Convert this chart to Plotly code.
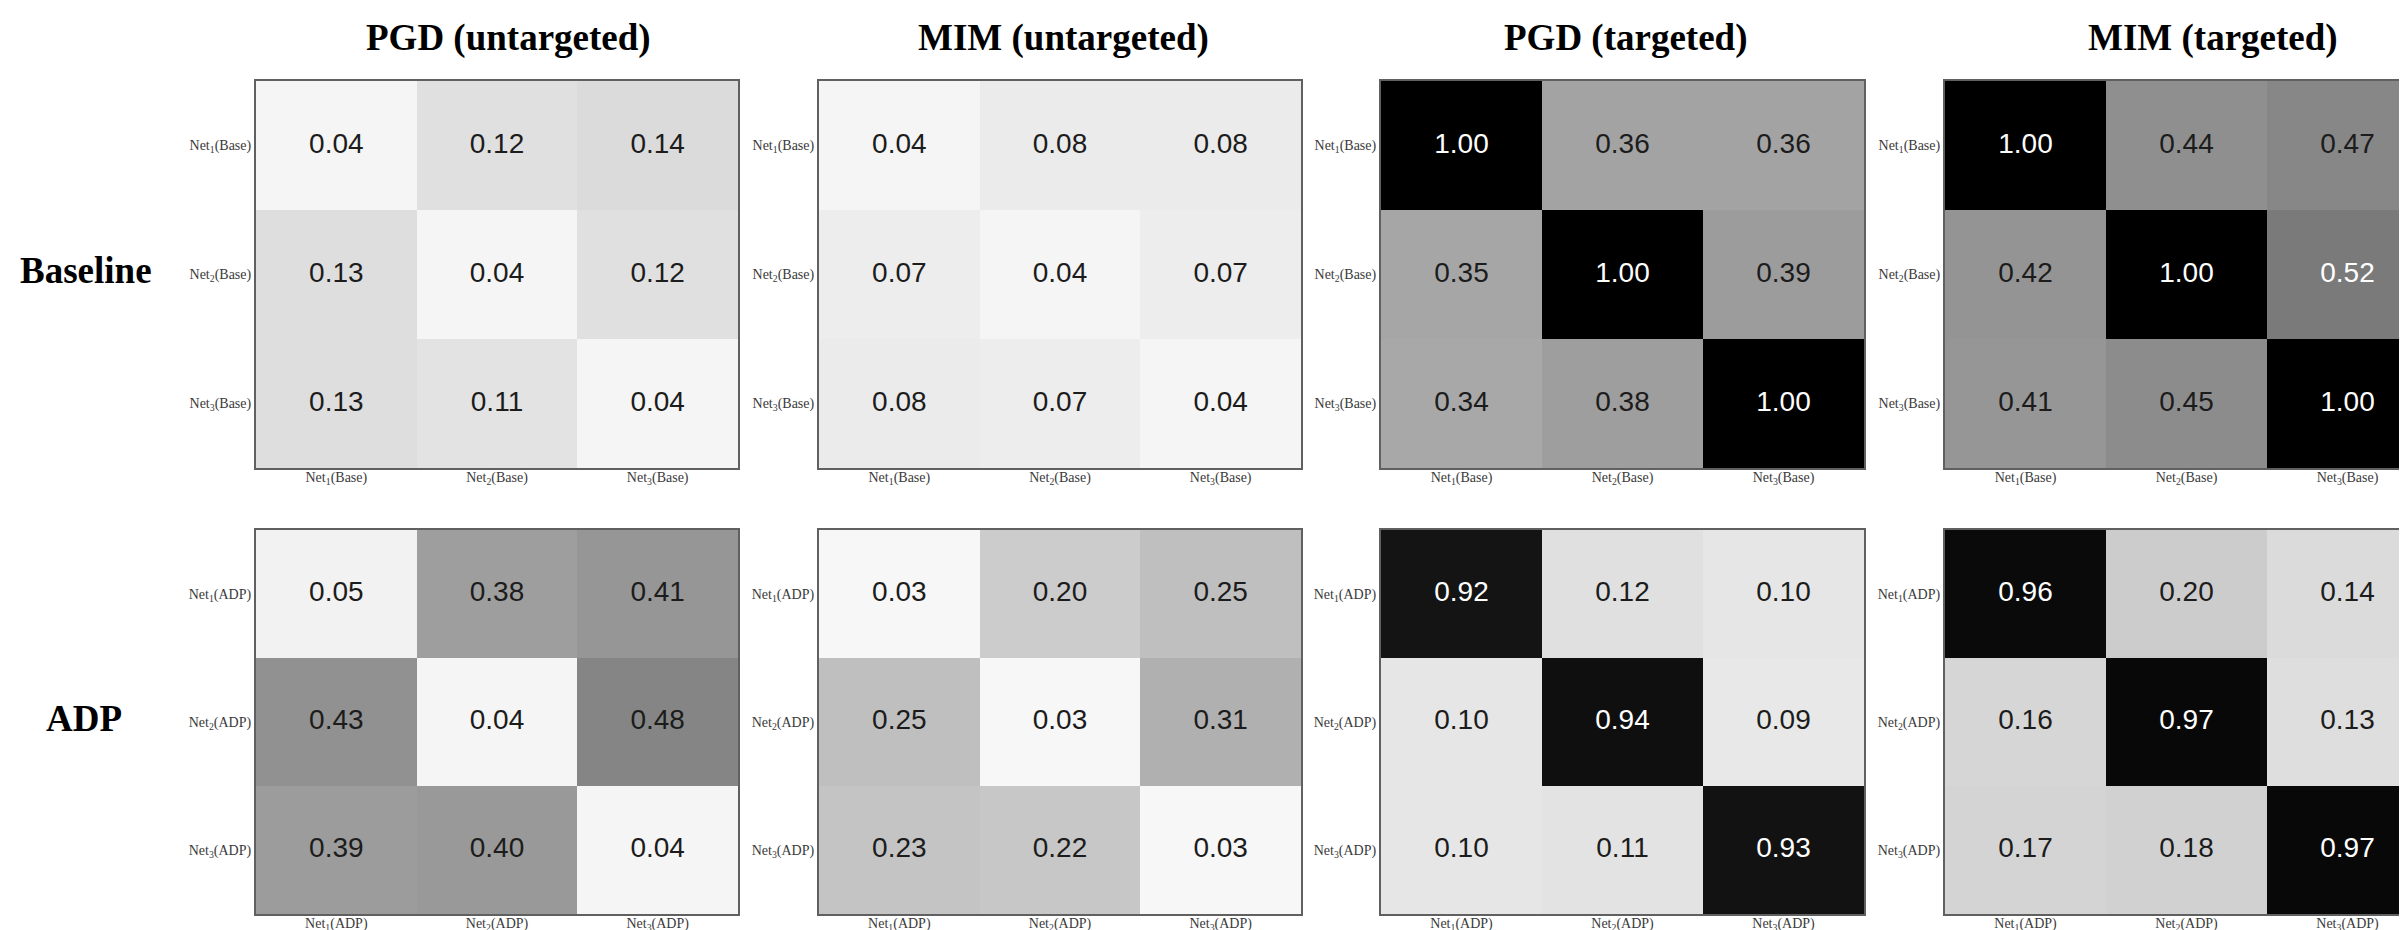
import plotly.graph_objects as go

# ---------------- data ----------------
col_titles = ["PGD (untargeted)", "MIM (untargeted)", "PGD (targeted)", "MIM (targeted)"]
row_labels = ["Baseline", "ADP"]

base_labels = ["Net<sub>1</sub>(Base)", "Net<sub>2</sub>(Base)", "Net<sub>3</sub>(Base)"]
adp_labels = ["Net<sub>1</sub>(ADP)", "Net<sub>2</sub>(ADP)", "Net<sub>3</sub>(ADP)"]

baseline_pgd_untargeted = [[0.04, 0.12, 0.14], [0.13, 0.04, 0.12], [0.13, 0.11, 0.04]]
baseline_mim_untargeted = [[0.04, 0.08, 0.08], [0.07, 0.04, 0.07], [0.08, 0.07, 0.04]]
baseline_pgd_targeted = [[1.00, 0.36, 0.36], [0.35, 1.00, 0.39], [0.34, 0.38, 1.00]]
baseline_mim_targeted = [[1.00, 0.44, 0.47], [0.42, 1.00, 0.52], [0.41, 0.45, 1.00]]

adp_pgd_untargeted = [[0.05, 0.38, 0.41], [0.43, 0.04, 0.48], [0.39, 0.40, 0.04]]
adp_mim_untargeted = [[0.03, 0.20, 0.25], [0.25, 0.03, 0.31], [0.23, 0.22, 0.03]]
adp_pgd_targeted = [[0.92, 0.12, 0.10], [0.10, 0.94, 0.09], [0.10, 0.11, 0.93]]
adp_mim_targeted = [[0.96, 0.20, 0.14], [0.16, 0.97, 0.13], [0.17, 0.18, 0.97]]

matrices = [
    [baseline_pgd_untargeted, baseline_mim_untargeted, baseline_pgd_targeted, baseline_mim_targeted],
    [adp_pgd_untargeted, adp_mim_untargeted, adp_pgd_targeted, adp_mim_targeted],
]
row_tick_labels = [base_labels, adp_labels]

# ---------------- layout geometry (pixels) ----------------
W, H = 2407, 930
col_px = [(248, 730), (811, 1293), (1373, 1856), (1937, 2420)]
row_px = [(73, 460), (522, 906)]
title_x = [500, 1055, 1617, 2205]
row_label_pos = [(78, 262), (76, 710)]

LINE = "#606060"
tick_font = dict(family="Liberation Serif", size=14, color="#3a3a3a")

fig = go.Figure()
layout = dict(
    width=W, height=H,
    margin=dict(l=0, r=0, t=0, b=0),
    paper_bgcolor="white", plot_bgcolor="white",
    showlegend=False,
)

idx = [0, 1, 2]
for r in range(2):
    for c in range(4):
        k = r * 4 + c + 1
        xa = "x" if k == 1 else f"x{k}"
        ya = "y" if k == 1 else f"y{k}"
        z = matrices[r][c]
        fig.add_trace(go.Heatmap(
            z=z, x=idx, y=idx, xaxis=xa, yaxis=ya,
            colorscale=[[0, "#ffffff"], [1, "#000000"]],
            zmin=0, zmax=1, showscale=False, hoverinfo="skip",
        ))
        xs, ys, txt, cols = [], [], [], []
        for i in idx:
            for j in idx:
                v = z[i][j]
                xs.append(j)
                ys.append(i)
                txt.append(f"{v:.2f}")
                cols.append("#ffffff" if v > 0.5 else "#1c1c1c")
        fig.add_trace(go.Scatter(
            x=xs, y=ys, mode="text", text=txt,
            textfont=dict(family="Liberation Sans", size=28, color=cols),
            xaxis=xa, yaxis=ya, hoverinfo="skip", showlegend=False,
        ))

        x0, x1 = col_px[c]
        x1v = min(x1, W)
        xr_end = -0.5 + 3 * (x1v - x0) / (x1 - x0)
        y0, y1 = row_px[r]
        xkey = "xaxis" if k == 1 else f"xaxis{k}"
        ykey = "yaxis" if k == 1 else f"yaxis{k}"
        layout[xkey] = dict(
            domain=[x0 / W, x1v / W], anchor=ya, range=[-0.5, xr_end],
            tickvals=idx, ticktext=row_tick_labels[r], tickfont=tick_font,
            ticklabelstandoff=-5,
            showline=True, mirror=True, linecolor=LINE, linewidth=2,
            ticks="", showgrid=False, zeroline=False, fixedrange=True,
        )
        layout[ykey] = dict(
            domain=[1 - y1 / H, 1 - y0 / H], anchor=xa, range=[2.5, -0.5],
            tickvals=idx, ticktext=row_tick_labels[r], tickfont=tick_font,
            showline=True, mirror=(c < 3), linecolor=LINE, linewidth=2,
            ticks="", showgrid=False, zeroline=False, fixedrange=True,
        )

annotations = []
for c, t in enumerate(col_titles):
    annotations.append(dict(
        text=f"<b>{t}</b>", xref="paper", yref="paper",
        x=title_x[c] / W, y=1 - 30 / H, xanchor="center", yanchor="middle",
        showarrow=False, font=dict(family="Liberation Serif", size=37, color="#000000"),
    ))
for r, t in enumerate(row_labels):
    px, py = row_label_pos[r]
    annotations.append(dict(
        text=f"<b>{t}</b>", xref="paper", yref="paper",
        x=px / W, y=1 - py / H, xanchor="center", yanchor="middle",
        showarrow=False, font=dict(family="Liberation Serif", size=37, color="#000000"),
    ))
layout["annotations"] = annotations

fig.update_layout(**layout)
fig.write_html("out.html")
